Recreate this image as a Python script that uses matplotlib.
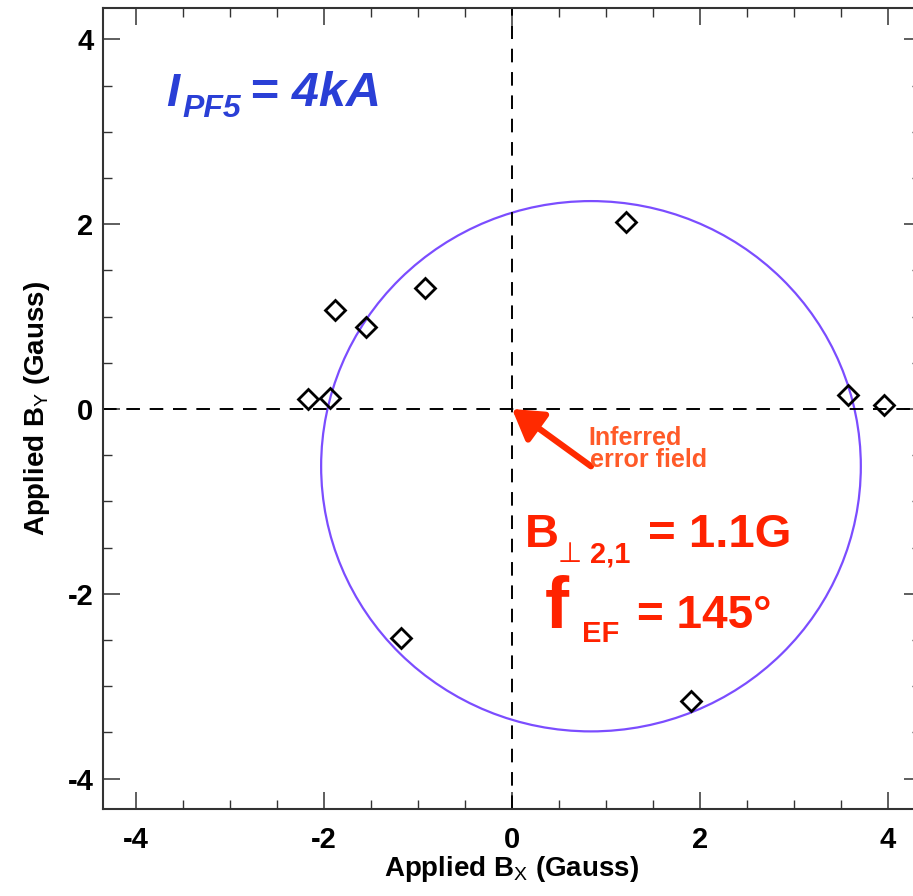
import matplotlib
matplotlib.use("Agg")
import matplotlib.pyplot as plt
from matplotlib.patches import Circle
from matplotlib.ticker import MultipleLocator

# ---- data ----
bx = [-2.17, -1.94, -1.88, -1.55, -0.93, 1.21, 3.57, 3.96, -1.18, 1.90]
by = [0.11, 0.12, 1.07, 0.89, 1.31, 2.02, 0.15, 0.04, -2.48, -3.16]
circle_center = (0.84, -0.62)
circle_radius = 2.87
major_ticks = [-4, -2, 0, 2, 4]
xlim = (-4.35, 4.35)
ylim = (-4.33, 4.34)

plt.rcParams['font.family'] = ['Liberation Sans', 'DejaVu Sans']
plt.rcParams['axes.unicode_minus'] = False
plt.rcParams['mathtext.fontset'] = 'custom'
plt.rcParams['mathtext.rm'] = 'Liberation Sans'
plt.rcParams['mathtext.it'] = 'Liberation Sans:italic'
plt.rcParams['mathtext.bf'] = 'Liberation Sans:bold'

W, H = 913, 896
fig = plt.figure(figsize=(W / 100, H / 100), dpi=100)
ax = fig.add_axes([103 / W, 87 / H, 818 / W, 801 / H])
ax.set_xlim(*xlim)
ax.set_ylim(*ylim)

for s in ax.spines.values():
    s.set_linewidth(1.5)
    s.set_color('#333333')

ax.set_xticks(major_ticks)
ax.set_yticks(major_ticks)
ax.xaxis.set_minor_locator(MultipleLocator(0.5))
ax.yaxis.set_minor_locator(MultipleLocator(0.5))
ax.tick_params(which='both', direction='in', top=True, right=True, color='#333333')
ax.tick_params(which='major', length=12, width=1.1, labelsize=21, pad=12)
ax.tick_params(which='minor', length=6.5, width=1.0)
ax.tick_params(axis='y', which='major', pad=7)
for lab in ax.get_xticklabels() + ax.get_yticklabels():
    lab.set_fontweight('bold')

ax.axhline(0, color='black', lw=1.4, ls=(0, (7, 5)))
ax.axvline(0, color='black', lw=1.4, ls=(0, (7, 5)))

ax.add_patch(Circle(circle_center, circle_radius, fill=False, ec='#7b4dff', lw=1.6))

ax.plot(bx, by, ls='none', marker='D', ms=10, mfc='none', mec='black', mew=2)

ax.annotate('', xy=(0, 0), xytext=circle_center,
            arrowprops=dict(arrowstyle='-|>,head_length=0.9,head_width=0.55',
                            lw=4.5, color='#ff2a00', mutation_scale=20,
                            shrinkA=0, shrinkB=0))

ax.set_xlabel(r'Applied B$_\mathrm{X}$ (Gauss)', fontsize=20, fontweight='bold', labelpad=0)
ax.set_ylabel(r'Applied B$_\mathrm{Y}$ (Gauss)', fontsize=20, fontweight='bold', labelpad=11)


def ftext(px, py, s, **kw):
    fig.text(px / W, 1 - py / H, s, ha='left', va='baseline', **kw)


# blue label
blue = '#2a3fd6'
ftext(166, 106, 'I', fontsize=34, fontweight='bold', fontstyle='italic', color=blue)
ftext(182, 117, 'PF5', fontsize=23, fontweight='bold', fontstyle='italic', color=blue)
ftext(250, 106, '= 4kA', fontsize=35, fontweight='bold', fontstyle='italic', color=blue)

# inferred error field
orange = '#ff5a28'
ftext(588, 445, 'Inferred', fontsize=18, color=orange, fontweight='bold')
ftext(590, 467, 'error field', fontsize=18, color=orange, fontweight='bold')

# red annotations
red = '#ff2200'
ftext(525, 547, 'B', fontsize=34, fontweight='bold', color=red)
ftext(558, 562, '\u22a5', fontsize=20, color=red, family=['DejaVu Sans'])
ftext(590, 562, '2,1', fontsize=21, fontweight='bold', color=red)
ftext(648, 547, '= 1.1G', fontsize=34, fontweight='bold', color=red)
ftext(545, 628, 'f', fontsize=52, fontweight='bold', color=red)
ftext(582, 642, 'EF', fontsize=21, fontweight='bold', color=red)
ftext(637, 628, '= 145\u00b0', fontsize=33, fontweight='bold', color=red)

fig.savefig('out.png', dpi=100)
